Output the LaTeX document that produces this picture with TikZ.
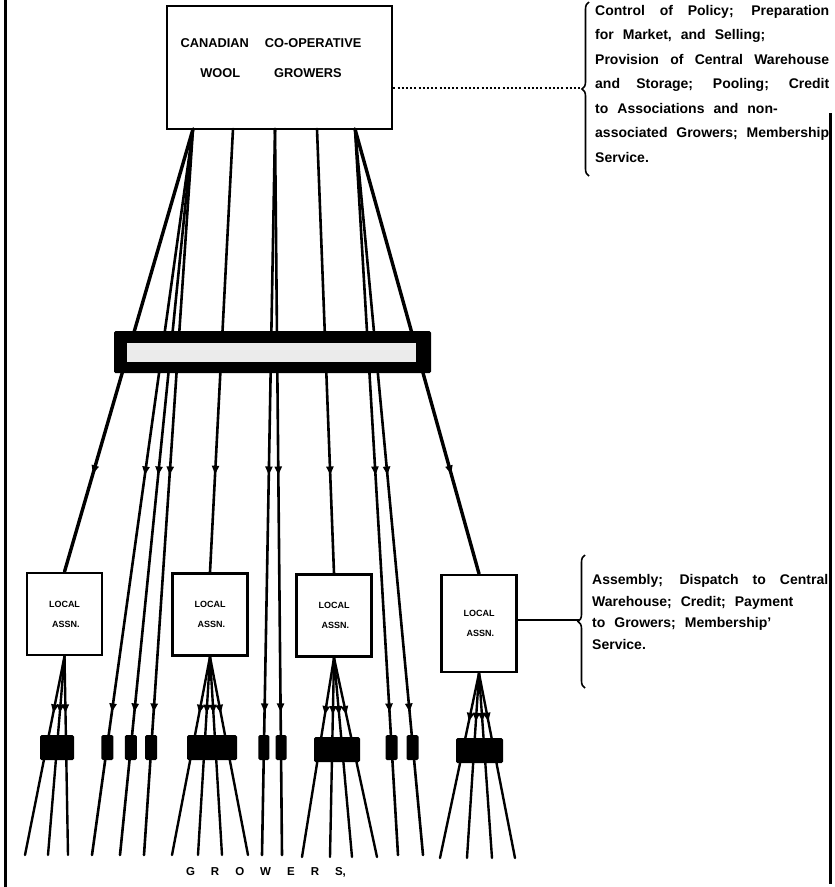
\documentclass[tikz,border=0pt]{standalone}
\usepackage{fontspec}
\setmainfont{Liberation Sans}
\usetikzlibrary{decorations.markings,decorations.pathreplacing,arrows.meta}
\newcommand\widespacing{\spaceskip=9pt plus 14pt minus 1pt\relax}
\begin{document}
\begin{tikzpicture}[x=1pt,y=-1pt,
  wire/.style={line width=2.6pt,line cap=round},
  thickwire/.style={line width=3.4pt,line cap=round},
  fanwire/.style={line width=2.4pt,line cap=round},
  arr/.style={postaction={decorate,decoration={markings,mark=at position #1 with {\arrow{Triangle[length=8.5pt,width=7pt]}}}}},
  bigbox/.style={draw,line width=2.6pt,fill=white,minimum width=225pt,minimum height=123pt,inner sep=0pt},
  locbox/.style={draw,line width=2.6pt,fill=white,minimum width=75pt,minimum height=82pt,inner sep=0pt,font=\bfseries\fontsize{9}{20}\selectfont,align=left},
  blk/.style={fill=black,rounded corners=1.5pt,minimum width=12pt,minimum height=25pt,inner sep=0pt},
  bigblk/.style={fill=black,rounded corners=1.5pt,minimum height=25pt,inner sep=0pt},
  note/.style={anchor=north west,inner sep=0pt,align=justify,font=\bfseries\fontsize{14}{24.5}\selectfont},
  brc/.style={decorate,decoration={brace,amplitude=7pt},line width=1.6pt}
]
\useasboundingbox (0,0) rectangle (835,887);
% frame lines
\draw[line width=3pt] (5,0) -- (5,887);
\draw[line width=3pt] (830,113) -- (830,884);

% main box
\node[bigbox] (cwg) at (279.5,67.5) {};
\node[font=\bfseries\fontsize{12.8}{30}\selectfont,align=center] (cwgtxt) at (271,58) {CANADIAN\hspace{16pt}CO-OPERATIVE\\WOOL\hspace{34pt}GROWERS};

% local boxes
\node[locbox] (l1) at (64.5,614) {LOCAL\\\hspace*{3pt}ASSN.};
\node[locbox] (l2) at (210,614.5) {LOCAL\\\hspace*{3pt}ASSN.};
\node[locbox] (l3) at (334,615.5) {LOCAL\\\hspace*{3pt}ASSN.};
\node[locbox,minimum height=97pt] (l4) at (479,623.5) {LOCAL\\\hspace*{3pt}ASSN.};

% exit points of the main box
\coordinate (t1) at (193,129);
\coordinate (t2) at (233,129);
\coordinate (t3) at (275,129);
\coordinate (t4) at (317,129);
\coordinate (t5) at (355,129);

% growers (free ends)
\coordinate (g2) at (92,855);
\coordinate (g3) at (120,855);
\coordinate (g4) at (144,855);
\coordinate (g6) at (262,855);
\coordinate (g7) at (282,855);
\coordinate (g9) at (398,855);
\coordinate (g10) at (423,855);
\coordinate (a1) at (25,855);
\coordinate (a2) at (48,855);
\coordinate (a3) at (68,855);
\coordinate (b1) at (172,855);
\coordinate (b2) at (198,855);
\coordinate (b3) at (222,855);
\coordinate (b4) at (248,855);
\coordinate (c1) at (302,857);
\coordinate (c2) at (330,857);
\coordinate (c3) at (352,857);
\coordinate (c4) at (377,857);
\coordinate (d1) at (440,858);
\coordinate (d2) at (467,858);
\coordinate (d3) at (492,858);
\coordinate (d4) at (515,858);

% lines from the main box
\draw[thickwire,arr=0.779] (t1) -- (l1.north);
\draw[wire,arr=0.4766,arr=0.803] (t1) -- (g2);
\draw[wire,arr=0.4766,arr=0.803] (t1) -- (g3);
\draw[wire,arr=0.4766,arr=0.803] (t1) -- (g4);
\draw[wire,arr=0.779] (t2) -- (l2.north);
\draw[wire,arr=0.4766,arr=0.803] (t3) -- (g6);
\draw[wire,arr=0.4766,arr=0.803] (t3) -- (g7);
\draw[wire,arr=0.779] (t4) -- (l3.north);
\draw[wire,arr=0.4766,arr=0.803] (t5) -- (g9);
\draw[wire,arr=0.4766,arr=0.803] (t5) -- (g10);
\draw[thickwire,arr=0.776] (t5) -- (l4.north);

% fans from local associations
\foreach \g in {a1,a2,a3} \draw[fanwire,arr=0.285] (l1.south) -- (\g);
\foreach \g in {b1,b2,b3,b4} \draw[fanwire,arr=0.285] (l2.south) -- (\g);
\foreach \g in {c1,c2,c3,c4} \draw[fanwire,arr=0.285] (l3.south) -- (\g);
\foreach \g in {d1,d2,d3,d4} \draw[fanwire,arr=0.26] (l4.south) -- (\g);

% the band across
\node[fill=black,rounded corners=1.5pt,minimum width=317pt,minimum height=42pt,inner sep=0pt] (bar) at (272.5,352) {};
\node[fill=black!8,minimum width=289pt,minimum height=19pt,inner sep=0pt] (barin) at (271.5,352.5) {};

% blocks
\node[bigblk,minimum width=34pt] (ba) at (57,747.5) {};
\node[blk] (s2) at (107.3,747.5) {};
\node[blk] (s3) at (130.8,747.5) {};
\node[blk] (s4) at (151.2,747.5) {};
\node[bigblk,minimum width=50pt] (bb) at (212,747.5) {};
\node[blk,minimum width=11pt] (s6) at (263.8,747.5) {};
\node[blk,minimum width=11pt] (s7) at (281.1,747.5) {};
\node[bigblk,minimum width=46pt] (bc) at (337,749.5) {};
\node[blk] (s9) at (391.5,747.5) {};
\node[blk] (s10) at (412.5,747.5) {};
\node[bigblk,minimum width=47pt] (bd) at (479.5,750.5) {};

% notes
\coordinate (nt) at (582,88);
\draw[line width=1.2pt,dash pattern=on 2pt off 2.2pt] (cwg.east |- nt) -- (nt);
\draw[brc] (589,176) -- (589,2);
\node[note,text width=234pt] (notetop) at (595,5) {\widespacing Control of Policy; Preparation\linebreak
for Market, and Selling;\newline
Provision of Central Warehouse\linebreak
and Storage; Pooling; Credit\linebreak
to Associations and non-\newline
associated Growers; Membership\linebreak
Service.};

\coordinate (nb) at (579,620);
\draw[line width=1.6pt] (l4.east |- nb) -- (nb);
\draw[brc] (585,688) -- (585,555);
\node[note,text width=236pt,font=\bfseries\fontsize{14}{21.7}\selectfont] (notebot) at (592,574) {\widespacing Assembly; Dispatch to Central\linebreak
Warehouse; Credit; Payment\newline
to Growers; Membership'\newline
Service.};

\node[font=\bfseries\fontsize{11.5}{13}\selectfont] (grow) at (266,872) {G\hspace{16pt}R\hspace{16pt}O\hspace{16pt}W\hspace{16pt}E\hspace{16pt}R\hspace{16pt}S,};
\end{tikzpicture}
\end{document}
